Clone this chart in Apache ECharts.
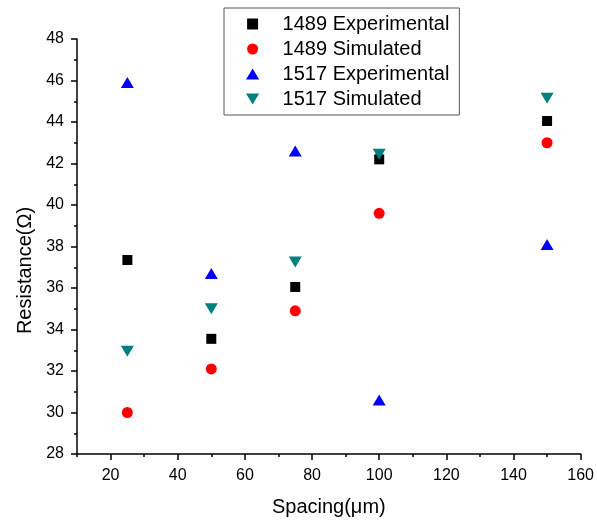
<!DOCTYPE html>
<html>
<head>
<meta charset="utf-8">
<script src="https://cdn.jsdelivr.net/npm/echarts@6/dist/echarts.min.js"></script>
<style>html,body{margin:0;padding:0;background:#fff}#c{width:597px;height:522px}</style>
</head>
<body>
<div id="c"></div>
<script>
const spacing = [25, 50, 75, 100, 150];
const exp1489 = [37.35, 33.55, 36.05, 42.2, 44.05];
const sim1489 = [30.0, 32.1, 34.9, 39.6, 43.0];
const exp1517 = [45.9, 36.7, 42.6, 30.6, 38.1];
const sim1517 = [32.95, 35.0, 37.25, 42.45, 45.15];
const xLabels = [20, 40, 60, 80, 100, 120, 140, 160];
const seriesNames = ['1489 Experimental', '1489 Simulated', '1517 Experimental', '1517 Simulated'];

const pairs = v => spacing.map((x, i) => [x, v[i]]);
const font = 'Liberation Sans, Arial, sans-serif';
const rectIcon = 'path://M0,0L10,0L10,10L0,10Z';
const upIcon = 'path://M6,0L12,10L0,10Z';
const downIcon = 'path://M0,0L12,0L6,10Z';
const chart = echarts.init(document.getElementById('c'), null, {renderer: 'canvas'});
chart.setOption({
  animation: false,
  backgroundColor: '#fff',
  grid: {left: 77, right: 14, top: 39, bottom: 68},
  legend: {
    orient: 'vertical', left: 224, top: 8,
    padding: [6, 10, 6, 22], itemGap: 5, itemWidth: 50, itemHeight: 11,
    borderColor: '#555', borderWidth: 1, symbolKeepAspect: true,
    textStyle: {fontFamily: font, fontSize: 20, lineHeight: 20, color: '#000'},
    data: [
      {name: seriesNames[0], icon: rectIcon},
      {name: seriesNames[1], icon: 'circle'},
      {name: seriesNames[2], icon: upIcon},
      {name: seriesNames[3], icon: downIcon}
    ]
  },
  xAxis: [{
    type: 'value', min: 10, max: 160, interval: 10,
    name: 'Spacing(μm)', nameLocation: 'middle', nameGap: 43,
    nameTextStyle: {fontFamily: font, fontSize: 20, color: '#000'},
    axisLine: {show: true, lineStyle: {color: '#000', width: 1.5}},
    axisTick: {show: true, length: 3, lineStyle: {color: '#000', width: 1.5}},
    axisLabel: {show: false},
    splitLine: {show: false}
  }, {
    type: 'value', min: 10, max: 160, position: 'bottom',
    axisLine: {show: false},
    axisTick: {show: true, length: 6, customValues: xLabels, lineStyle: {color: '#000', width: 1.5}},
    axisLabel: {show: true, customValues: xLabels, margin: 14, fontFamily: font, fontSize: 16, color: '#000'},
    splitLine: {show: false}
  }],
  yAxis: {
    type: 'value', min: 28, max: 48, interval: 2,
    name: 'Resistance(Ω)', nameLocation: 'middle', nameGap: 42,
    nameTextStyle: {fontFamily: font, fontSize: 20, color: '#000', padding: [0, 48, 0, 0]},
    axisLine: {show: true, lineStyle: {color: '#000', width: 1.5}},
    axisTick: {show: true, length: 6, lineStyle: {color: '#000', width: 1.5}},
    minorTick: {show: true, splitNumber: 2, length: 3, lineStyle: {color: '#000', width: 1.5}},
    axisLabel: {margin: 13, fontFamily: font, fontSize: 16, color: '#000'},
    splitLine: {show: false}
  },
  series: [
    {name: seriesNames[0], type: 'scatter', data: pairs(exp1489), symbol: 'rect', symbolSize: 10, itemStyle: {color: '#000', opacity: 1}},
    {name: seriesNames[1], type: 'scatter', data: pairs(sim1489), symbol: 'circle', symbolSize: 11, itemStyle: {color: '#ff0000', opacity: 1}},
    {name: seriesNames[2], type: 'scatter', data: pairs(exp1517), symbol: upIcon, symbolSize: [13, 11], itemStyle: {color: '#0000ff', opacity: 1}},
    {name: seriesNames[3], type: 'scatter', data: pairs(sim1517), symbol: downIcon, symbolSize: [13, 11], itemStyle: {color: '#008080', opacity: 1}}
  ]
});
</script>
</body>
</html>
